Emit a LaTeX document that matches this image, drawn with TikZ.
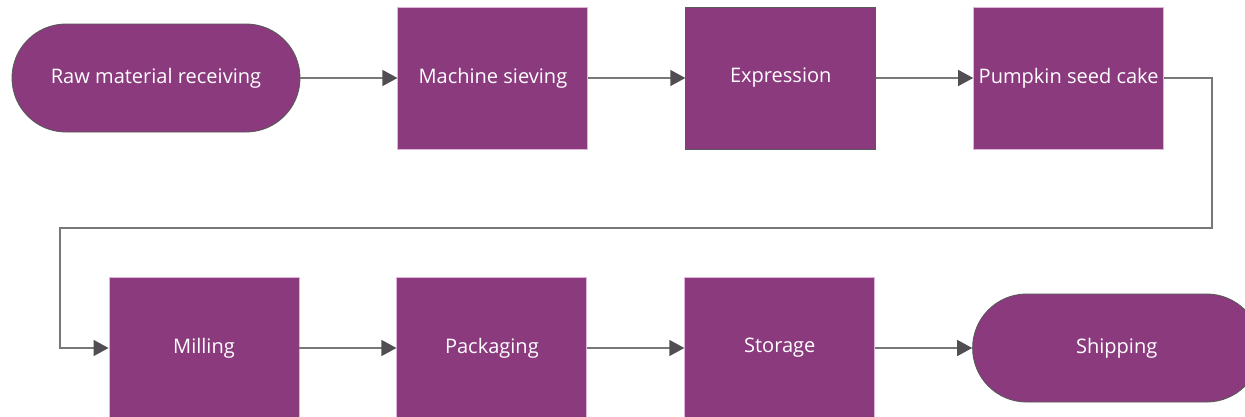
\documentclass[tikz,border=0pt]{standalone}
\usepackage{fontspec}
\setmainfont{Open Sans}
\usetikzlibrary{positioning,arrows.meta}

\definecolor{plum}{RGB}{139,58,126}
\definecolor{edgegray}{RGB}{89,89,89}
\definecolor{linegray}{RGB}{120,120,120}
\definecolor{tipgray}{RGB}{80,78,82}
\definecolor{pinkedge}{RGB}{225,180,218}

\begin{document}
\begin{tikzpicture}[
  node distance=1.94cm,
  stepbox/.style={rectangle, fill=plum, draw=pinkedge, line width=0.5pt,
    minimum width=3.8cm, minimum height=2.84cm, inner sep=0pt,
    text=white, font=\fontsize{11.4}{13}\selectfont},
  pill/.style={stepbox, rounded corners=1.08cm, draw=edgegray,
    minimum width=5.76cm, minimum height=2.16cm},
  flow/.style={linegray, line width=0.8pt,
    -{Triangle[length=0.3cm,width=0.32cm,fill=tipgray,color=tipgray]}}
]
% Cadre de l'image
\clip (0,0) rectangle (24.9,-8.34);
\useasboundingbox (0,0) rectangle (24.9,-8.34);

% Premiere rangee
\node[pill] (raw) at (3.12,-1.56) {Raw material receiving};
\node[stepbox, right=of raw] (sieve) {Machine sieving};
\node[stepbox, draw=edgegray, right=of sieve] (expr) {Expression};
\node[stepbox, right=of expr] (cake) {Pumpkin seed cake};

% Deuxieme rangee
\node[stepbox] (mill) at (4.08,-6.96) {Milling};
\node[stepbox, right=of mill] (pack) {Packaging};
\node[stepbox, right=of pack] (stor) {Storage};
\node[pill, right=of stor] (ship) {Shipping};

% Points de retour
\coordinate (turnR) at (24.24,-4.56);
\coordinate (turnL) at (1.2,-4.56);

% Fleches
\draw[flow] (raw) -- (sieve);
\draw[flow] (sieve) -- (expr);
\draw[flow] (expr) -- (cake);
\draw[flow] (cake.east) -| (turnR) -- (turnL) |- (mill.west);
\draw[flow] (mill) -- (pack);
\draw[flow] (pack) -- (stor);
\draw[flow] (stor) -- (ship);
\end{tikzpicture}
\end{document}
